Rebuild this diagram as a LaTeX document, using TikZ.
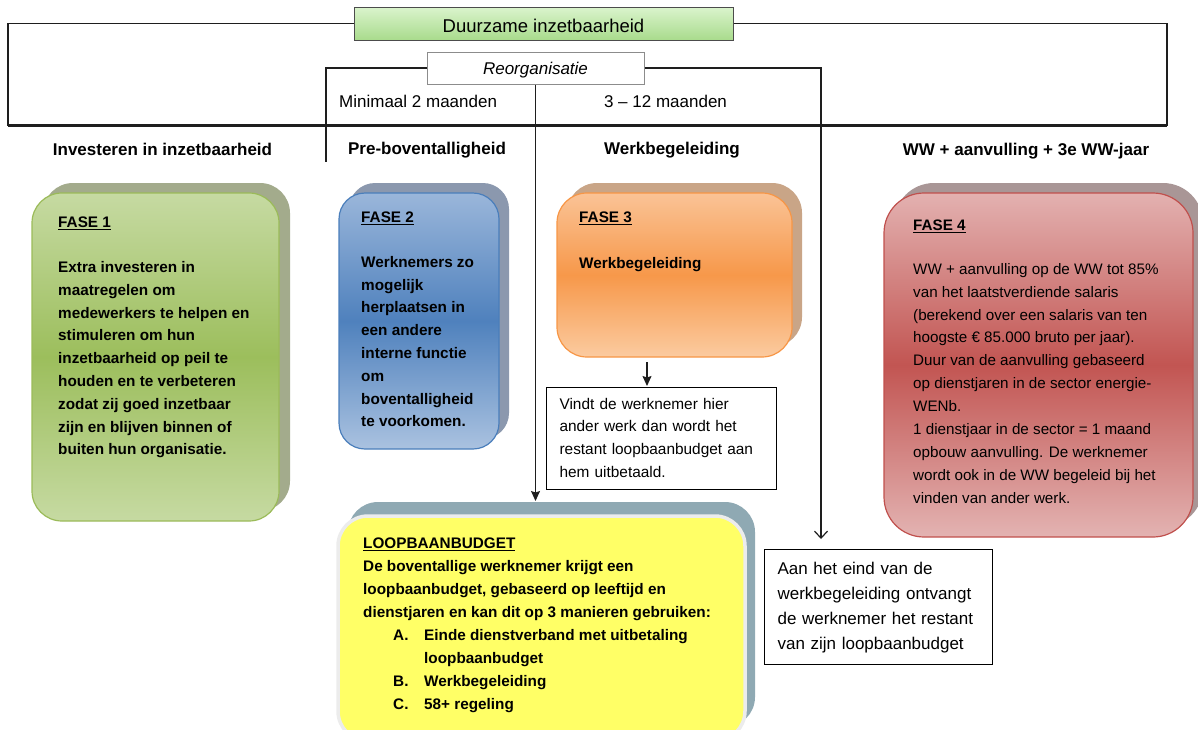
\documentclass[tikz,border=0pt]{standalone}
\usepackage{fontspec}
\setmainfont{Liberation Sans}
\usetikzlibrary{shadows,arrows.meta,calc}
\definecolor{lineclr}{HTML}{1E1E1E}
\definecolor{topA}{HTML}{DAF4CD}
\definecolor{topB}{HTML}{A9DB8C}
\definecolor{f1light}{HTML}{C6DAA2}
\definecolor{f1mid}{HTML}{9CBE5C}
\definecolor{f1line}{HTML}{9BBB59}
\definecolor{f1shad}{HTML}{A3AB8C}
\definecolor{f2light}{HTML}{9AB6DA}
\definecolor{f2mid}{HTML}{4F81BD}
\definecolor{f2low}{HTML}{AAC2E0}
\definecolor{f2line}{HTML}{4A7EBB}
\definecolor{f2shad}{HTML}{8B98AE}
\definecolor{f3light}{HTML}{FAC396}
\definecolor{f3mid}{HTML}{F7984A}
\definecolor{f3low}{HTML}{FBCBA0}
\definecolor{f3line}{HTML}{F79646}
\definecolor{f3shad}{HTML}{C9A587}
\definecolor{f4light}{HTML}{E3B1B0}
\definecolor{f4mid}{HTML}{C25552}
\definecolor{f4low}{HTML}{E3B3B2}
\definecolor{f4line}{HTML}{C0504D}
\definecolor{f4shad}{HTML}{A99696}
\definecolor{lbfill}{HTML}{FFFF66}
\definecolor{lbrim}{HTML}{ECECEC}
\definecolor{lbshad}{HTML}{8FA9B3}
\newcommand{\topst}{\rule{0pt}{16pt}}
\begin{document}
\begin{tikzpicture}[x=1pt,y=-1pt,
  thinline/.style={draw=lineclr, line width=1.2pt},
  arrowfill/.style={thinline, -{Stealth[length=10pt,width=9pt,inset=1.5pt]}},
  arrowopen/.style={thinline, -{Straight Barb[length=7pt,width=13pt]}},
  phasebox/.style={anchor=north west, inner sep=0pt, outer sep=0pt, line width=1.2pt},
  boldtxt/.style={anchor=north west, inner sep=0pt, align=left, font=\fontsize{15.3}{22.8}\selectfont\bfseries},
  regtxt/.style={anchor=north west, inner sep=0pt, align=left, font=\fontsize{15.2}{22.9}\selectfont},
  toptxt/.style={inner sep=0pt, font=\fontsize{17}{20}\selectfont},
  headtxt/.style={anchor=base, inner sep=0pt, font=\fontsize{17}{20}\selectfont\bfseries},
  notebox/.style={anchor=north west, draw=black, line width=1.1pt, inner xsep=13pt, inner ysep=0pt, align=left}
]
\path[use as bounding box] (0,0) rectangle (1198,729);
\clip (0,0) rectangle (1198,729);

% frame coordinates
\coordinate (frameL) at (8,125.5);
\coordinate (frameR) at (1167,125.5);
\coordinate (preEnd) at (326,162);
\coordinate (vx) at (647,0);

% top boxes
\node[draw=black!70, line width=1pt, top color=topA, bottom color=topB,
      minimum width=379pt, minimum height=33pt, inner sep=0pt,
      text height=17pt, text depth=0pt, font=\fontsize{18.5}{20}\selectfont] (duur) at (543.5,23.5) {Duurzame inzetbaarheid};
\node[draw=black!45, fill=white, line width=1pt,
      minimum width=217pt, minimum height=32pt, inner sep=0pt,
      text height=15pt, text depth=2pt, font=\fontsize{17}{20}\selectfont\itshape] (reorg) at (535.5,68) {Reorganisatie};

\draw[thinline] (duur.west) -| (frameL);
\draw[thinline] (duur.east) -| (frameR);
\draw[line width=3.2pt, draw=lineclr] (frameL) -- (frameR);
\draw[thinline] (reorg.west) -| (preEnd);

% period labels and headers
\node[toptxt, anchor=base west] (min2) at (339,107) {Minimaal 2 maanden};
\node[toptxt, anchor=base] (m312) at (665.5,107) {3 – 12 maanden};
\node[headtxt] (h1) at (162.5,155.5) {Investeren in inzetbaarheid};
\node[headtxt] (h2) at (427,154) {Pre-boventalligheid};
\node[headtxt] (h3) at (672,154) {Werkbegeleiding};
\node[headtxt] (h4) at (1026,155) {WW + aanvulling + 3e WW-jaar};

% FASE 1
\node[phasebox, minimum width=247pt, minimum height=328pt, rounded corners=30pt,
      draw=f1line, top color=f1light, bottom color=f1light, middle color=f1mid,
      general shadow={shadow xshift=11pt, shadow yshift=10pt, fill=f1shad}] (f1) at (32,193) {};
\node[boldtxt] (f1t) at (58,211) {\topst\underline{FASE 1}\\[22.4pt]
Extra investeren in\\maatregelen om\\medewerkers te helpen en\\stimuleren om hun\\inzetbaarheid op peil te\\houden en te verbeteren\\zodat zij goed inzetbaar\\zijn en blijven binnen of\\buiten hun organisatie.};

% FASE 2
\node[phasebox, minimum width=160pt, minimum height=256pt, rounded corners=26pt,
      draw=f2line, top color=f2light, bottom color=f2low, middle color=f2mid,
      general shadow={shadow xshift=10pt, shadow yshift=10pt, fill=f2shad}] (f2) at (339,193) {};
\node[boldtxt] (f2t) at (361,206) {\topst\underline{FASE 2}\\[22.2pt]
Werknemers zo\\mogelijk\\herplaatsen in\\een andere\\interne functie\\om\\boventalligheid\\te voorkomen.};

% FASE 3
\node[phasebox, minimum width=235pt, minimum height=164pt, rounded corners=30pt,
      draw=f3line, top color=f3light, bottom color=f3low, middle color=f3mid,
      general shadow={shadow xshift=10pt, shadow yshift=10pt, fill=f3shad}] (f3) at (557,193) {};
\node[boldtxt] (f3t) at (579,206) {\topst\underline{FASE 3}\\[23.2pt]Werkbegeleiding};

% FASE 4
\node[phasebox, minimum width=309pt, minimum height=344pt, rounded corners=40pt,
      draw=f4line, top color=f4light, bottom color=f4low, middle color=f4mid,
      general shadow={shadow xshift=10pt, shadow yshift=10pt, fill=f4shad}] (f4) at (884,193) {};
\node[regtxt] (f4t) at (913,214) {\topst\textbf{\underline{FASE 4}}\\[21.1pt]
WW + aanvulling op de WW tot 85\%\\van het laatstverdiende salaris\\(berekend over een salaris van ten\\hoogste € 85.000 bruto per jaar).\\Duur van de aanvulling gebaseerd\\op dienstjaren in de sector energie-\\WENb.\\1 dienstjaar in de sector = 1 maand\\opbouw aanvulling. De werknemer\\wordt ook in de WW begeleid bij het\\vinden van ander werk.};

% note boxes
\node[notebox, text width=204pt, minimum height=102pt, font=\fontsize{15.4}{22.7}\selectfont] (vindt) at (546,387)
 {\strut Vindt de werknemer hier\\ander werk dan wordt het\\restant loopbaanbudget aan\\hem uitbetaald.\strut};
\node[notebox, text width=202pt, minimum height=115pt, font=\fontsize{17}{25}\selectfont] (aan) at (764,549)
 {\strut Aan het eind van de\\werkbegeleiding ontvangt\\de werknemer het restant\\van zijn loopbaanbudget\strut};

% LOOPBAANBUDGET
\node[phasebox, minimum width=407pt, minimum height=225pt, rounded corners=30pt,
      draw=lbrim, line width=3.5pt, fill=lbfill,
      general shadow={shadow xshift=10pt, shadow yshift=14pt, fill=lbshad}] (lb) at (338,516) {};
\node[boldtxt, font=\fontsize{15.3}{23}\selectfont\bfseries] (lbt) at (363,532) {\topst\underline{LOOPBAANBUDGET}\\
De boventallige werknemer krijgt een\\loopbaanbudget, gebaseerd op leeftijd en\\dienstjaren en kan dit op 3 manieren gebruiken:\\
\hspace*{30pt}\makebox[31pt][l]{A.}Einde dienstverband met uitbetaling\\
\hspace*{61pt}loopbaanbudget\\
\hspace*{30pt}\makebox[31pt][l]{B.}Werkbegeleiding\\
\hspace*{30pt}\makebox[31pt][l]{C.}58+ regeling};

% connectors
\coordinate (aanIn) at ($(aan.north west)+(57,0)$);
\draw[arrowfill, shorten >=15pt] (reorg.south) -- (reorg.south |- lb.north);
\draw[arrowopen, shorten >=10pt] (reorg.east) -| (aanIn);
\draw[arrowfill, shorten <=5pt, shorten >=1pt] (f3.south -| vx) -- (vindt.north -| vx);
\end{tikzpicture}
\end{document}
